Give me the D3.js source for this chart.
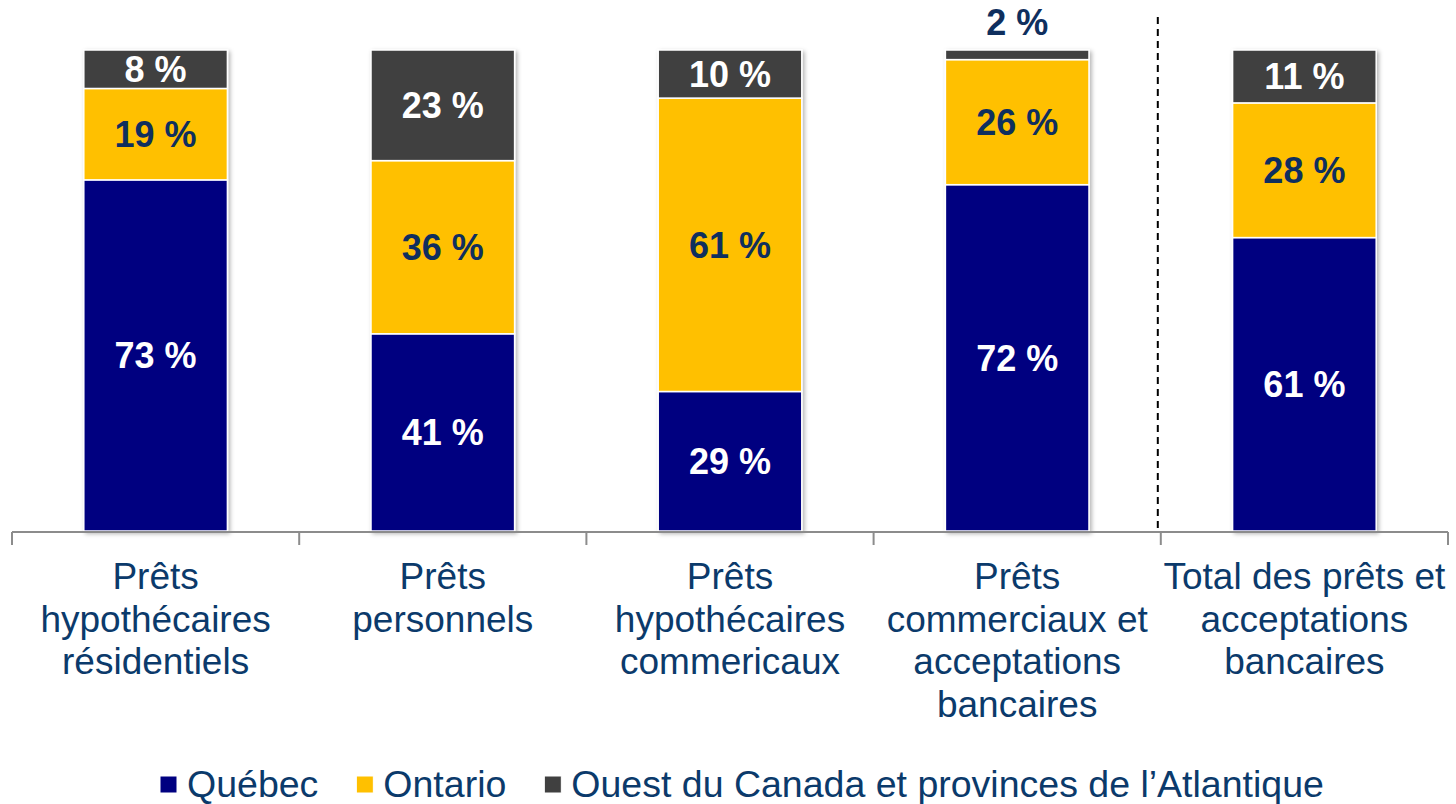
<!DOCTYPE html>
<html>
<head>
<meta charset="utf-8">
<script src="https://cdnjs.cloudflare.com/ajax/libs/d3/7.8.5/d3.min.js"></script>
<style>
  body { margin: 0; background: #fff; }
  svg { display: block; font-family: "Liberation Sans", Arial, sans-serif; }
</style>
</head>
<body>
<svg width="1456" height="804"></svg>
<script>
// --- Data ---
const categories = [
  "Prêts hypothécaires résidentiels",
  "Prêts personnels",
  "Prêts hypothécaires commericaux",
  "Prêts commerciaux et acceptations bancaires",
  "Total des prêts et acceptations bancaires"
];
const categoryLines = [
  ["Prêts", "hypothécaires", "résidentiels"],
  ["Prêts", "personnels"],
  ["Prêts", "hypothécaires", "commericaux"],
  ["Prêts", "commerciaux et", "acceptations", "bancaires"],
  ["Total des prêts et", "acceptations", "bancaires"]
];
const seriesNames = ["Québec", "Ontario", "Ouest du Canada et provinces de l’Atlantique"];
const quebec  = [73, 41, 29, 72, 61];
const ontario = [19, 36, 61, 26, 28];
const ouest   = [8, 23, 10, 2, 11];

const colors = ["#000080", "#FFC000", "#404040"];
const labelColors = ["#ffffff", "#0f2f5e", "#ffffff"];
const textBlue = "#0b3a6b";

// --- Setup ---
const svg = d3.select("svg");
const baseY = 531, topY = 50;
const axisLeft = 12, axisRight = 1448;

const rows = categories.map((c, i) => ({
  cat: c, "Québec": quebec[i], "Ontario": ontario[i],
  [seriesNames[2]]: ouest[i]
}));
const stacked = d3.stack().keys(seriesNames)(rows);

// --- Scales ---
const x = d3.scaleBand()
  .domain(categories)
  .range([axisLeft, axisRight])
  .paddingInner(0.5)
  .paddingOuter(0.25);
const xOuter = d3.scaleBand()
  .domain(categories)
  .range([axisLeft, axisRight])
  .padding(0);
const y = d3.scaleLinear().domain([0, 100]).range([baseY, topY]);

// shadow
const defs = svg.append("defs");
const f = defs.append("filter").attr("id", "shadow")
  .attr("x", "-10%").attr("y", "-10%").attr("width", "130%").attr("height", "130%");
f.append("feDropShadow").attr("dx", 2).attr("dy", 2).attr("stdDeviation", 2)
  .attr("flood-color", "#000").attr("flood-opacity", 0.3);

// --- Bars ---
const barGroups = svg.append("g").selectAll("g.bar")
  .data(categories)
  .join("g")
  .attr("class", "bar")
  .attr("filter", "url(#shadow)");

barGroups.selectAll("rect")
  .data((c, i) => stacked.map((s, k) => ({ k, cat: c, y0: s[i][0], y1: s[i][1] })))
  .join("rect")
  .attr("x", d => x(d.cat))
  .attr("width", x.bandwidth())
  .attr("y", d => y(d.y1))
  .attr("height", d => y(d.y0) - y(d.y1))
  .attr("fill", d => colors[d.k])
  .attr("stroke", "#fff")
  .attr("stroke-width", 1.5);

// --- Value labels ---
const labels = [];
stacked.forEach((s, k) => {
  s.forEach((seg, i) => {
    labels.push({ k, cat: categories[i], v: seg[1] - seg[0], y0: seg[0], y1: seg[1] });
  });
});
// small segments get their label above the bar
const tooSmall = d => (y(d.y0) - y(d.y1)) < 30;
svg.append("g").selectAll("text")
  .data(labels)
  .join("text")
  .attr("x", d => x(d.cat) + x.bandwidth() / 2)
  .attr("y", d => tooSmall(d) ? y(d.y1) - 15 : (y(d.y0) + y(d.y1)) / 2 + 13)
  .attr("text-anchor", "middle")
  .style("font-size", "36px")
  .style("font-weight", "bold")
  .attr("fill", d => tooSmall(d) ? "#0f2f5e" : labelColors[d.k])
  .text(d => d.v + " %");

// --- Axis ---
const axis = svg.append("g").attr("stroke", "#8c8c8c").attr("stroke-width", 2);
axis.append("line")
  .attr("x1", axisLeft).attr("x2", axisRight)
  .attr("y1", baseY + 1).attr("y2", baseY + 1);
const tickXs = categories.map(c => xOuter(c)).concat([axisRight]);
axis.selectAll("line.tick")
  .data(tickXs)
  .join("line")
  .attr("class", "tick")
  .attr("x1", d => d).attr("x2", d => d)
  .attr("y1", baseY + 1).attr("y2", baseY + 14);

// separator before the total
svg.append("line")
  .attr("x1", xOuter(categories[4]) - 3).attr("x2", xOuter(categories[4]) - 3)
  .attr("y1", 17).attr("y2", baseY)
  .attr("stroke", "#000").attr("stroke-width", 2)
  .attr("stroke-dasharray", "7,5");

// --- Category labels ---
const catText = svg.append("g").selectAll("text")
  .data(categories)
  .join("text")
  .attr("text-anchor", "middle")
  .attr("fill", textBlue)
  .style("font-size", "37px");
catText.selectAll("tspan")
  .data((c, i) => categoryLines[i].map(line => ({ c, line })))
  .join("tspan")
  .attr("x", d => x(d.c) + x.bandwidth() / 2)
  .attr("y", (d, j) => 589 + j * 42.5)
  .text(d => d.line);

// --- Legend ---
const legend = svg.append("g");
let lx = 160;
seriesNames.forEach((name, k) => {
  legend.append("rect")
    .attr("x", lx).attr("y", 776).attr("width", 17).attr("height", 17)
    .attr("fill", colors[k]).attr("stroke", "#fff").attr("stroke-width", 1);
  const t = legend.append("text")
    .attr("x", lx + 27).attr("y", 797)
    .attr("fill", textBlue)
    .style("font-size", "37.5px")
    .text(name);
  lx += 27 + t.node().getComputedTextLength() + 38;
});
</script>
</body>
</html>
